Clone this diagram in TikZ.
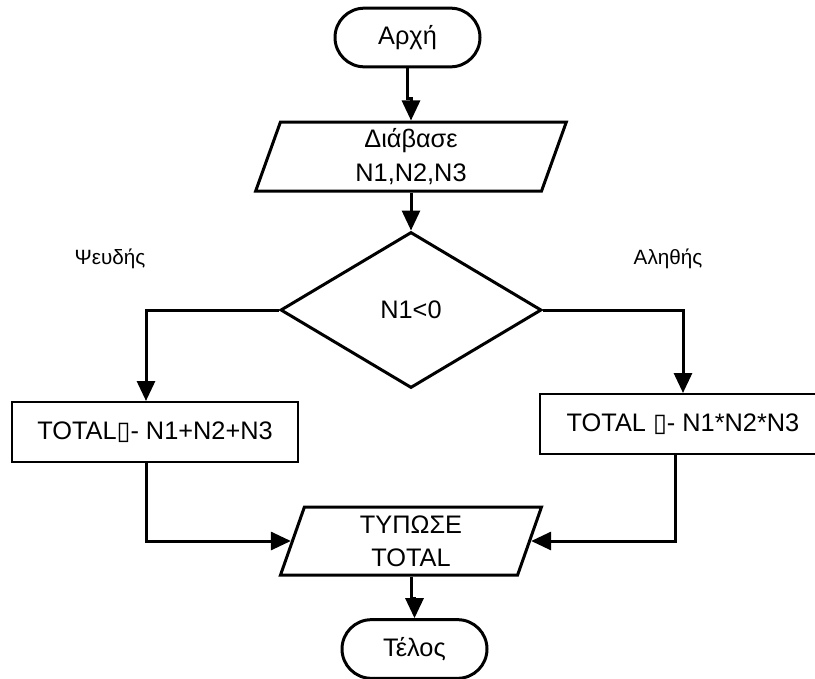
\documentclass[tikz,border=0pt]{standalone}
\usepackage{fontspec}
\setmainfont{Liberation Sans}
\newfontfamily\symf{DejaVu Sans}
\usepackage{tikz}
\usetikzlibrary{shapes.geometric,shapes.misc,arrows.meta,calc}
\tikzstyle{term}=[rounded rectangle, draw,% start / end
line width=2.25pt, minimum width=108.75pt, minimum height=44pt, inner sep=0pt]
\tikzstyle{io}=[trapezium, trapezium stretches body, draw, align=center,
line width=2.25pt, inner sep=0pt, trapezium left angle=66, trapezium right angle=114]
\tikzstyle{cond}=[diamond, draw, line width=2.25pt, minimum width=195.75pt, minimum height=117pt, inner sep=0pt]
\tikzstyle{proc}=[rectangle, draw, line width=1.5pt, minimum width=215pt, minimum height=45pt, inner sep=0pt]
\tikzstyle{lbl}=[font=\fontsize{15.5}{18}\selectfont]
\tikzstyle{flow}=[-{Triangle[width=13.5pt,length=15pt]}, line width=2.25pt]

\begin{document}
\begin{tikzpicture}[x=0.75pt,y=-0.75pt,font=\fontsize{19}{25}\selectfont]
\useasboundingbox (0,0) rectangle (815,679);
\clip (0,0) rectangle (815,679);
\node[term] (x0) at (407.5,37.5) {Αρχή};
\node[io, minimum width=233pt, minimum height=51.75pt] (x1) at (411,156.5) {Διάβασε\\N1,N2,N3};
\node[cond] (x2) at (411,310) {N1<0};
\node[proc] (x3) at (155,432) {TOTAL{\symf ▯}- N1+N2+N3};
\node[proc] (x4) at (683,424) {TOTAL {\symf ▯}- N1*N2*N3};
\node[io, minimum width=195.75pt, minimum height=51pt, trapezium left angle=65, trapezium right angle=115] (x5) at (411,541) {ΤΥΠΩΣΕ\\TOTAL};
\node[term] (x6) at (414.5,649) {Τέλος};
\node[lbl] (f) at (110,259) {Ψευδής};
\node[lbl] (t) at (668,259) {Αληθής};
\draw[flow] (x0.south) -- ++(0,30) -| (x1.north -| x1.center);
\draw[flow] (x1.south -| x1.center) -- (x2.north);
\draw[flow] (x2.west) -| ($(x3.north)+(-9,0)$);
\draw[flow] (x2.east) -| (x4.north);
\draw[flow] ($(x3.south)+(-9,0)$) |- (x5.left side);
\draw[flow] ($(x4.south)+(-8,0)$) |- (x5.right side);
\draw[flow] (x5.south -| x5.center) -- ++(0,22) -| (x6.north);
\end{tikzpicture}
\end{document}
